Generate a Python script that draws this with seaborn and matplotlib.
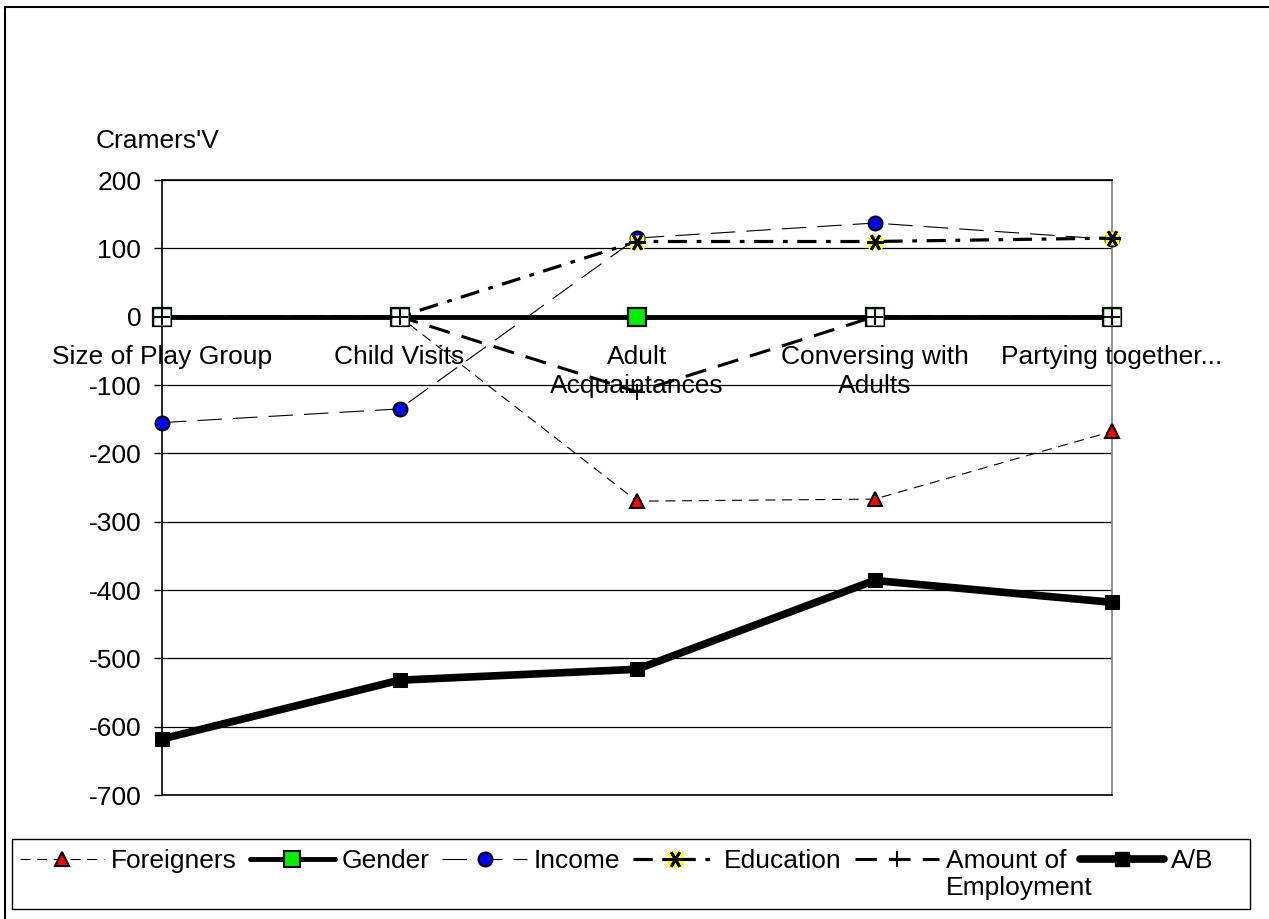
import matplotlib
matplotlib.use("Agg")
import matplotlib.pyplot as plt
from matplotlib.patches import Rectangle
from matplotlib.lines import Line2D
from matplotlib.legend_handler import HandlerTuple
import seaborn as sns
import numpy as np
import pandas as pd

categories = ["Size of Play Group", "Child Visits", "Adult\nAcquaintances",
              "Conversing with\nAdults", "Partying together..."]
foreigners = [0, 0, -270, -267, -168]
gender = [0, 0, 0, 0, 0]
income = [-155, -135, 115, 137, 113]
education = [0, 0, 110, 110, 115]
employment = [0, 0, -110, 0, 0]
ab = [-618, -532, -516, -386, -418]
yticks = list(range(-700, 201, 100))

sns.set_theme(style="white")
plt.rcParams['font.family'] = ['Liberation Sans', 'DejaVu Sans']
plt.rcParams['text.color'] = 'black'
plt.rcParams['ytick.color'] = 'black'
FS = 19

fig = plt.figure(figsize=(12.69, 9.19), dpi=100)
ax = fig.add_axes([162/1269, 1-795/919, (1112-162)/1269, (795-180)/919])
x = np.arange(len(categories))

for v in yticks:
    ax.axhline(v, color="black", lw=0.9, zorder=1)

sns.lineplot(x=x, y=ab, ax=ax, color="black", lw=5.5, marker="s", ms=10,
             mfc="black", mec="black", zorder=3, clip_on=False)
sns.lineplot(x=x, y=foreigners, ax=ax, color="black", lw=0.8,
             linestyle=(0, (9, 6)), marker="^", ms=10, mfc="red",
             mec="black", mew=1.5, zorder=4, clip_on=False)
sns.lineplot(x=x, y=gender, ax=ax, color="black", lw=3.5, marker="s", ms=12.5,
             mfc="#00ee00", mec="black", mew=1.6, zorder=5, clip_on=False)
sns.lineplot(x=x, y=income, ax=ax, color="black", lw=0.8,
             linestyle=(0, (22, 10)), marker="o", ms=10, mfc="blue",
             mec="black", mew=1.5, zorder=6, clip_on=False)
sns.lineplot(x=x, y=education, ax=ax, color="black", lw=2.3,
             linestyle=(0, (6, 3, 1.5, 3)), zorder=7, clip_on=False)
ax.plot(x, education, ls="none", marker="s", ms=10.5, mfc="yellow", mec="none",
        zorder=7.1, clip_on=False)
ax.plot(x, education, ls="none", marker=(6, 2, 90), ms=12, mec="black", mew=2,
        zorder=7.2, clip_on=False)
sns.lineplot(x=x, y=employment, ax=ax, color="black", lw=2.2,
             linestyle=(0, (7, 4)), zorder=8, clip_on=False)
emp = np.array(employment, dtype=float)
zero = emp == 0
ax.plot(x[zero], emp[zero], ls="none", marker="s", ms=11, mfc="white", mec="none",
        zorder=8.1, clip_on=False)
ax.plot(x, emp, ls="none", marker="+", ms=11, mec="black", mew=1.5,
        zorder=8.2, clip_on=False)
if ax.get_legend():
    ax.get_legend().remove()

ax.set_xlim(0, len(categories) - 1)
ax.set_ylim(-700, 200)
ax.set_yticks(yticks)
ax.set_yticklabels([str(v) for v in yticks], fontsize=FS)
ax.set_xticks([])
ax.tick_params(axis="y", left=True, length=6, width=1, color="black", pad=9)
for s in ["left", "bottom", "top"]:
    ax.spines[s].set_color("black")
    ax.spines[s].set_linewidth(1.2)
ax.spines["right"].set_color("grey")
ax.spines["right"].set_linewidth(1.2)
ax.set_xlabel("")
ax.set_ylabel("")

for i, c in enumerate(categories):
    ax.annotate(c, (i, 0), xytext=(0, -20.5), textcoords="offset points",
                ha="center", va="top", fontsize=FS, linespacing=1.28,
                zorder=9, annotation_clip=False)

fig.text(96/1269, 1-141/919, "Cramers'V", fontsize=FS, ha="left", va="center")

# outer border
fig.patches.append(Rectangle((5/1269, -0.01), 1.0, (919-7)/919 + 0.01,
                             transform=fig.transFigure, fill=False,
                             edgecolor="black", lw=1.5))
# legend box
fig.patches.append(Rectangle((12/1269, 1-909/919), (1250-12)/1269, 70/919,
                             transform=fig.transFigure, fill=False,
                             edgecolor="black", lw=1))

h_for = Line2D([], [], color="black", lw=0.8, ls=(0, (9, 6)), marker="^",
               ms=10, mfc="red", mec="black", mew=1.5)
h_gen = Line2D([], [], color="black", lw=3.5, marker="s", ms=12,
               mfc="#00ee00", mec="black", mew=1.5)
h_inc = Line2D([], [], color="black", lw=0.8, ls=(0, (22, 10)), marker="o",
               ms=10, mfc="blue", mec="black", mew=1.5)
h_edu = (Line2D([], [], color="black", lw=2.3, ls=(0, (6, 3, 1.5, 3))),
         Line2D([], [], ls="none", marker="s", ms=11, mfc="yellow", mec="none"),
         Line2D([], [], ls="none", marker=(6, 2, 90), ms=12, mec="black", mew=2))
h_emp = Line2D([], [], color="black", lw=2.2, ls=(0, (7, 4)), marker="+",
               ms=11, mec="black", mew=1.5)
h_ab = Line2D([], [], color="black", lw=5.5, marker="s", ms=10, mfc="black")

leg = fig.legend([h_for, h_gen, h_inc, h_edu, h_emp, h_ab],
                 ["Foreigners", "Gender", "Income", "Education", "Amount of", "A/B"],
                 handler_map={tuple: HandlerTuple(ndivide=1)},
                 loc="upper left", bbox_to_anchor=(20/1269, 1-849/919),
                 ncol=6, frameon=False, fontsize=FS, handlelength=3.2,
                 handletextpad=0.25, columnspacing=0.5, borderaxespad=0,
                 borderpad=0)

fig.canvas.draw()
bb = leg.get_texts()[4].get_window_extent()
x0, y0 = fig.transFigure.inverted().transform((bb.x0, bb.y0))
fig.text(x0, y0 - 3/919, "Employment", fontsize=FS, ha="left", va="top")

fig.savefig("out.png", dpi=100)
